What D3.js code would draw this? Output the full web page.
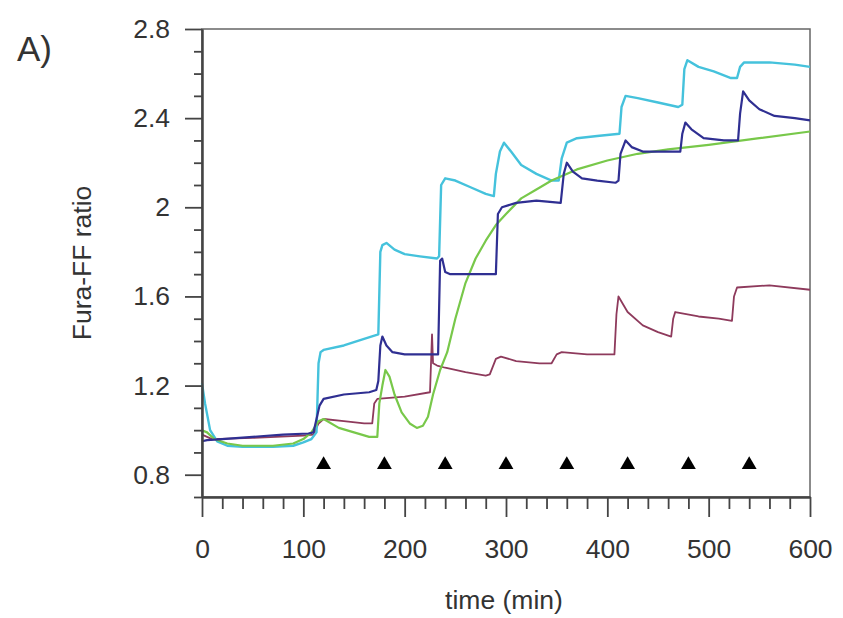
<!DOCTYPE html>
<html>
<head>
<meta charset="utf-8">
<script src="https://cdn.jsdelivr.net/npm/d3@7"></script>
<style>
  html, body { margin: 0; padding: 0; background: #fff; }
  svg { display: block; }
  text { font-family: "Liberation Sans", Arial, sans-serif; }
</style>
</head>
<body>
<svg id="chart" width="843" height="618"></svg>
<script>
// ---------- data (time in min, Fura-FF ratio) ----------
const xMajorTicks = [0, 100, 200, 300, 400, 500, 600];
const xMinorTicks = [20, 40, 60, 80, 120, 140, 160, 180, 220, 240, 260, 280, 320, 340, 360, 380, 420, 440, 460, 480, 520, 540, 560, 580];
const yMajorTicks = [0.8, 1.2, 1.6, 2.0, 2.4, 2.8];
const yMajorLabels = ["0.8", "1.2", "1.6", "2", "2.4", "2.8"];
const yMinorTicks = [0.7, 0.9, 1.0, 1.1, 1.3, 1.4, 1.5, 1.7, 1.8, 1.9, 2.1, 2.2, 2.3, 2.5, 2.6, 2.7];

const stimTimes = [120, 180, 240, 300, 360, 420, 480, 540];
const stimLevel = 0.845;

const cyanSeries = [
  [0, 1.21], [3, 1.12], [8, 1.00], [15, 0.95], [25, 0.93], [40, 0.925], [70, 0.925], [90, 0.93],
  [100, 0.945], [108, 0.96], [113, 0.99], [115, 1.30], [117, 1.35], [120, 1.36], [140, 1.38],
  [160, 1.41], [174, 1.43], [176, 1.80], [178, 1.83], [182, 1.84], [190, 1.81], [200, 1.79],
  [215, 1.78], [232, 1.77], [234, 1.78], [236, 2.10], [240, 2.13], [250, 2.12], [265, 2.09],
  [280, 2.06], [288, 2.05], [290, 2.15], [294, 2.25], [298, 2.29], [305, 2.25], [315, 2.19],
  [330, 2.15], [345, 2.12], [352, 2.12], [355, 2.22], [360, 2.29], [370, 2.31], [390, 2.32],
  [412, 2.33], [414, 2.45], [418, 2.50], [430, 2.49], [450, 2.47], [470, 2.45], [474, 2.46],
  [476, 2.62], [479, 2.66], [490, 2.63], [505, 2.61], [522, 2.58], [528, 2.58], [531, 2.63],
  [535, 2.65], [560, 2.65], [585, 2.64], [600, 2.63]
];

const blueSeries = [
  [0, 0.95], [5, 0.955], [20, 0.96], [50, 0.97], [80, 0.98], [105, 0.985], [110, 0.99],
  [113, 1.05], [116, 1.11], [120, 1.14], [140, 1.16], [165, 1.17], [172, 1.18], [174, 1.22],
  [176, 1.38], [178, 1.42], [182, 1.38], [188, 1.35], [200, 1.34], [228, 1.34], [233, 1.34],
  [235, 1.76], [237, 1.77], [240, 1.71], [245, 1.70], [270, 1.70], [290, 1.70], [292, 1.97],
  [296, 2.00], [310, 2.02], [330, 2.03], [354, 2.02], [357, 2.15], [360, 2.20], [366, 2.16],
  [375, 2.13], [390, 2.12], [408, 2.11], [411, 2.12], [413, 2.24], [418, 2.30], [424, 2.27],
  [435, 2.25], [455, 2.25], [472, 2.25], [474, 2.33], [477, 2.38], [483, 2.35], [495, 2.31],
  [515, 2.30], [529, 2.30], [531, 2.42], [534, 2.52], [540, 2.48], [550, 2.44], [565, 2.41],
  [585, 2.40], [600, 2.39]
];

const greenSeries = [
  [0, 1.00], [5, 0.99], [12, 0.96], [25, 0.94], [40, 0.93], [70, 0.93], [90, 0.94], [100, 0.96],
  [108, 0.99], [115, 1.04], [120, 1.05], [135, 1.01], [150, 0.99], [165, 0.97], [173, 0.97],
  [175, 1.12], [178, 1.20], [181, 1.27], [185, 1.24], [190, 1.16], [197, 1.08], [205, 1.03],
  [212, 1.01], [218, 1.02], [223, 1.06], [228, 1.16], [235, 1.27], [242, 1.35], [250, 1.50],
  [260, 1.66], [270, 1.77], [280, 1.85], [290, 1.92], [300, 1.97], [315, 2.04], [330, 2.08],
  [345, 2.12], [370, 2.17], [400, 2.21], [430, 2.24], [460, 2.26], [500, 2.28], [550, 2.31],
  [600, 2.34]
];

const maroonSeries = [
  [0, 0.98], [10, 0.96], [50, 0.965], [100, 0.975], [110, 0.98], [115, 1.03], [120, 1.05],
  [140, 1.04], [160, 1.03], [168, 1.03], [170, 1.12], [173, 1.14], [200, 1.15], [225, 1.17],
  [227, 1.43], [228, 1.30], [232, 1.29], [240, 1.28], [260, 1.26], [280, 1.245], [284, 1.25],
  [290, 1.32], [295, 1.33], [310, 1.31], [333, 1.30], [345, 1.30], [350, 1.34], [355, 1.35],
  [380, 1.34], [407, 1.34], [409, 1.52], [411, 1.60], [420, 1.53], [435, 1.47], [450, 1.44],
  [463, 1.42], [465, 1.50], [467, 1.53], [490, 1.51], [510, 1.50], [523, 1.49], [525, 1.60],
  [528, 1.64], [560, 1.65], [600, 1.63]
];

// ---------- drawing ----------
const svg = d3.select("#chart");
const x = d3.scaleLinear().domain([0, 600]).range([202, 810]);
const y = d3.scaleLinear().domain([0.7, 2.8]).range([497, 29]);

const axisColor = "#444";
const textColor = "#333";
const fontSize = "26.5px";

// frame (top & right)
svg.append("rect")
  .attr("x", x(0)).attr("y", y(2.8))
  .attr("width", x(600) - x(0)).attr("height", y(0.7) - y(2.8))
  .attr("fill", "none").attr("stroke", "#666").attr("stroke-width", 1.5);

// series
const line = d3.line().x(d => x(d[0])).y(d => y(d[1]));
const series = [
  { data: maroonSeries, color: "#8e3a5c", width: 1.8 },
  { data: cyanSeries, color: "#45c2dc", width: 2.4 },
  { data: greenSeries, color: "#78c84a", width: 2.2 },
  { data: blueSeries, color: "#2f2f92", width: 2.2 }
];
series.forEach(s => {
  svg.append("path").datum(s.data)
    .attr("d", line)
    .attr("fill", "none")
    .attr("stroke", s.color)
    .attr("stroke-width", s.width)
    .attr("stroke-linejoin", "round");
});

// stimulus triangles
svg.selectAll("path.stim").data(stimTimes).enter().append("path")
  .attr("class", "stim")
  .attr("d", d3.symbol().type(d3.symbolTriangle).size(95))
  .attr("transform", d => `translate(${x(d)},${y(stimLevel)})`)
  .attr("fill", "#000");

// y axis
const yMinorAxis = d3.axisLeft(y).tickValues(yMinorTicks).tickSize(8).tickSizeOuter(0).tickFormat("");
const yMinG = svg.append("g").attr("transform", `translate(${x(0)},0)`).call(yMinorAxis);
const yAxis = d3.axisLeft(y).tickValues(yMajorTicks).tickSize(17).tickSizeOuter(0).tickPadding(15)
  .tickFormat((d, i) => yMajorLabels[i]);
const yG = svg.append("g").attr("transform", `translate(${x(0)},0)`).call(yAxis);

// x axis
const xMinorAxis = d3.axisBottom(x).tickValues(xMinorTicks).tickSize(12).tickSizeOuter(0).tickFormat("");
const xMinG = svg.append("g").attr("transform", `translate(0,${y(0.7)})`).call(xMinorAxis);
const xAxis = d3.axisBottom(x).tickValues(xMajorTicks).tickSize(20).tickSizeOuter(0).tickPadding(22)
  .tickFormat(d3.format("d"));
const xG = svg.append("g").attr("transform", `translate(0,${y(0.7)})`).call(xAxis);

[yMinG, yG, xMinG, xG].forEach(g => {
  g.select(".domain").attr("stroke", axisColor).attr("stroke-width", 2);
  g.selectAll(".tick line").attr("stroke", axisColor).attr("stroke-width", 1.8);
  g.selectAll(".tick text")
    .attr("fill", textColor)
    .style("font-family", '"Liberation Sans", Arial, sans-serif')
    .style("font-size", fontSize);
});

// axis titles
svg.append("text")
  .attr("transform", `translate(91,${(y(0.7) + y(2.8)) / 2}) rotate(-90)`)
  .attr("text-anchor", "middle")
  .attr("fill", textColor)
  .style("font-size", fontSize)
  .text("Fura-FF ratio");

svg.append("text")
  .attr("x", 504).attr("y", 609)
  .attr("text-anchor", "middle")
  .attr("fill", textColor)
  .style("font-size", fontSize)
  .text("time (min)");

svg.append("text")
  .attr("x", 17).attr("y", 61)
  .attr("fill", textColor)
  .style("font-size", "35px")
  .text("A)");
</script>
</body>
</html>
